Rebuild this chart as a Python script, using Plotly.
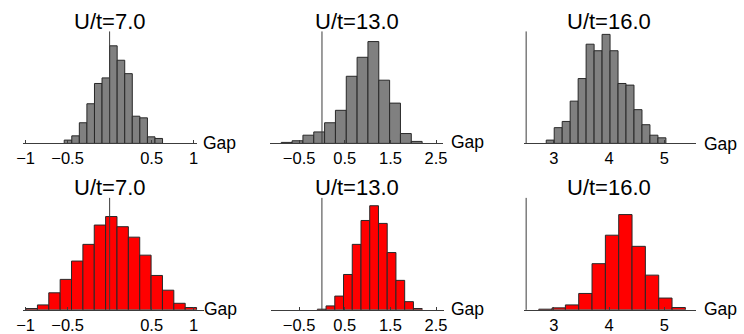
import numpy as np
import plotly.graph_objects as go

W, H = 744, 334
FONT = "Liberation Sans, Arial, Helvetica, sans-serif"

# Interaction strengths shown in each column
couplings = ["7.0", "13.0", "16.0"]

# Top row (gray): first bin edge, bin width and counts per bin
gray_start = [-0.54, -0.892, 2.863]
gray_width = [0.09, 0.2374, 0.1442]
gray_counts_7 = [10, 23, 63, 121, 183, 200, 298, 254, 213, 83, 78, 20, 15]
gray_counts_13 = [3, 8, 25, 35, 63, 101, 205, 263, 311, 193, 123, 30, 6]
gray_counts_16 = [10, 48, 67, 129, 198, 303, 283, 333, 283, 183, 178, 103, 57, 25, 17]

# Bottom row (red): first bin edge, bin width and counts per bin
red_start = [-0.994, -0.1007, 2.727]
red_width = [0.1352, 0.1914, 0.241]
red_counts_7 = [4, 15, 52, 93, 149, 200, 259, 285, 254, 222, 167, 105, 60, 20, 7]
red_counts_13 = [2, 12, 42, 108, 200, 273, 318, 264, 175, 90, 25, 4]
red_counts_16 = [2, 6, 15, 50, 141, 228, 291, 194, 106, 36, 7]

# Tick labels on the Gap axis of each column
tick_vals = [[-1, -0.5, 0.5, 1], [-0.5, 0.5, 1.5, 2.5], [3, 4, 5]]

# Where the vertical axis crosses the Gap axis in each column
axis_origin = [0, 0, 2.5]

# Layout geometry (pixels) and visible Gap ranges for each panel
x_ranges = [[-1.025, 1.037], [-1.144, 2.655], [2.46, 5.564],
            [-1.025, 1.123], [-1.108, 2.669], [2.46, 5.564]]
x_dom_px = [[16.7, 192.6], [266.7, 442.7], [524.7, 699.0],
            [16.7, 200.0], [268.3, 443.3], [524.7, 699.0]]
row_px = [[32.0, 146.0], [201.5, 315.5]]
y_top = 342
title_cx_px = [104.5, 355.0, 611.0]
title_cy_px = [21.5, 190.5]
gap_px = [[197, 146], [449, 145], [705, 146.5],
          [198, 315], [449, 314.5], [705, 314.5]]

AXIS_COLOR = "rgb(60,60,60)"
EDGE_COLOR = "rgb(40,40,40)"


def px_x(v):
    return v / W


def px_y(v):
    return 1 - v / H


panels = [
    (gray_start[0], gray_width[0], gray_counts_7, "rgb(128,128,128)"),
    (gray_start[1], gray_width[1], gray_counts_13, "rgb(128,128,128)"),
    (gray_start[2], gray_width[2], gray_counts_16, "rgb(128,128,128)"),
    (red_start[0], red_width[0], red_counts_7, "rgb(255,0,0)"),
    (red_start[1], red_width[1], red_counts_13, "rgb(255,0,0)"),
    (red_start[2], red_width[2], red_counts_16, "rgb(255,0,0)"),
]

fig = go.Figure()
layout = dict(
    width=W, height=H,
    margin=dict(l=0, r=0, t=0, b=0),
    paper_bgcolor="white", plot_bgcolor="white",
    showlegend=False,
    font=dict(family=FONT, color="black"),
)
shapes = []
annotations = []

for i, (start, width, counts, color) in enumerate(panels):
    k = i + 1
    col = i % 3
    row = i // 3
    counts = np.asarray(counts, dtype=float)
    centers = start + width * (np.arange(len(counts)) + 0.5)
    xa = "x" if k == 1 else f"x{k}"
    ya = "y" if k == 1 else f"y{k}"
    fig.add_trace(go.Bar(
        x=centers, y=counts, width=width,
        marker=dict(color=color, line=dict(color=EDGE_COLOR, width=1)),
        xaxis=xa, yaxis=ya, hoverinfo="x+y",
    ))
    top_px, bot_px = row_px[row]
    layout["xaxis" if k == 1 else f"xaxis{k}"] = dict(
        domain=[px_x(x_dom_px[i][0]), px_x(x_dom_px[i][1])],
        range=x_ranges[i], anchor=ya,
        showline=True, linecolor=AXIS_COLOR, linewidth=1,
        showgrid=False, zeroline=False,
        tickmode="array", tickvals=tick_vals[col],
        ticks="inside", ticklen=3, tickcolor=AXIS_COLOR,
        tickfont=dict(size=16.5, family=FONT, color="black"),
        fixedrange=True,
    )
    layout["yaxis" if k == 1 else f"yaxis{k}"] = dict(
        domain=[px_y(bot_px), px_y(top_px)],
        range=[0, y_top], anchor=xa,
        visible=False, fixedrange=True,
    )
    # vertical axis through the axis origin
    shapes.append(dict(
        type="line", xref=xa, yref=f"{ya} domain",
        x0=axis_origin[col], x1=axis_origin[col], y0=0, y1=1,
        line=dict(color=AXIS_COLOR, width=1), layer="above",
    ))
    # axis label at the right end of the Gap axis
    annotations.append(dict(
        text="Gap", xref="paper", yref="paper",
        x=px_x(gap_px[i][0]), y=px_y(gap_px[i][1]),
        xanchor="left", yanchor="middle", showarrow=False,
        font=dict(size=17.5, family=FONT, color="black"),
    ))
    # panel title
    annotations.append(dict(
        text=f"U/t={couplings[col]}", xref="paper", yref="paper",
        x=px_x(title_cx_px[col]), y=px_y(title_cy_px[row]),
        xanchor="center", yanchor="middle", showarrow=False,
        font=dict(size=22, family=FONT, color="black"),
    ))

layout["shapes"] = shapes
layout["annotations"] = annotations
fig.update_layout(**layout)
fig.write_html("out.html")
